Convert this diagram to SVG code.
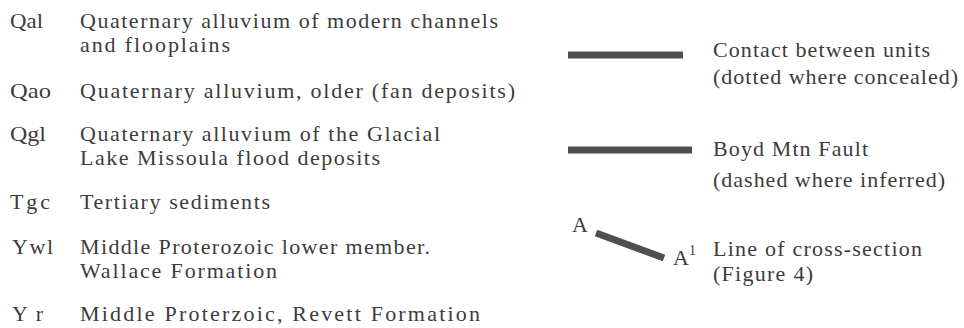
<svg xmlns="http://www.w3.org/2000/svg" width="964" height="328" viewBox="0 0 964 328">
<style>
text{font-family:"Liberation Serif","Times New Roman",serif;font-size:22px;fill:#3c3c3c}
.bar{stroke:#4f4f4f;stroke-width:7;stroke-linecap:butt;fill:none}
</style>
<rect width="964" height="328" fill="#ffffff"/>
<g id="unit-Qal">
<text x="10" y="28" textLength="33" lengthAdjust="spacingAndGlyphs">Qal</text>
<text x="80" y="28" textLength="418" lengthAdjust="spacing">Quaternary alluvium of modern channels</text>
<text x="80" y="52" textLength="150" lengthAdjust="spacing">and flooplains</text>
</g>
<g id="unit-Qao">
<text x="10" y="98" textLength="41" lengthAdjust="spacingAndGlyphs">Qao</text>
<text x="80" y="98" textLength="435" lengthAdjust="spacing">Quaternary alluvium, older (fan deposits)</text>
</g>
<g id="unit-Qgl">
<text x="10" y="141" textLength="36" lengthAdjust="spacingAndGlyphs">Qgl</text>
<text x="80" y="141" textLength="360" lengthAdjust="spacing">Quaternary alluvium of the Glacial</text>
<text x="80" y="165" textLength="300" lengthAdjust="spacing">Lake Missoula flood deposits</text>
</g>
<g id="unit-Tgc">
<text x="10" y="209" textLength="40" lengthAdjust="spacing">Tgc</text>
<text x="80" y="209" textLength="190" lengthAdjust="spacing">Tertiary sediments</text>
</g>
<g id="unit-Ywl">
<text x="12" y="254" textLength="41" lengthAdjust="spacing">Ywl</text>
<text x="80" y="254" textLength="350" lengthAdjust="spacing">Middle Proterozoic lower member.</text>
<text x="80" y="278" textLength="197" lengthAdjust="spacing">Wallace Formation</text>
</g>
<g id="unit-Yr">
<text x="12" y="321" textLength="31" lengthAdjust="spacing">Yr</text>
<text x="80" y="321" textLength="400" lengthAdjust="spacing">Middle Proterzoic, Revett Formation</text>
</g>
<g id="connectors">
<line class="bar" x1="568" y1="55" x2="683" y2="55"/>
<line class="bar" x1="568" y1="150" x2="692" y2="150"/>
<line class="bar" x1="596" y1="233" x2="664" y2="258"/>
</g>
<g id="contact">
<text x="713" y="57" textLength="217" lengthAdjust="spacing">Contact between units</text>
<text x="713" y="84" textLength="245" lengthAdjust="spacing">(dotted where concealed)</text>
</g>
<g id="fault">
<text x="713" y="156" textLength="155" lengthAdjust="spacing">Boyd Mtn Fault</text>
<text x="713" y="187" textLength="232" lengthAdjust="spacing">(dashed where inferred)</text>
</g>
<g id="cross-section">
<text x="572" y="232">A</text>
<text x="673" y="265">A<tspan font-size="14" dy="-10">1</tspan></text>
<text x="713" y="256" textLength="209" lengthAdjust="spacing">Line of cross-section</text>
<text x="713" y="281" textLength="100" lengthAdjust="spacing">(Figure 4)</text>
</g>
</svg>
